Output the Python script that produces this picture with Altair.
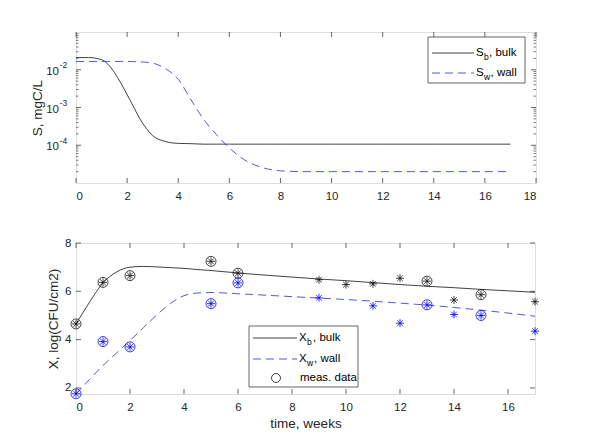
import altair as alt
import pandas as pd

# ---------------- data ----------------
# top panel: substrate concentration, mgC/L (log axis)
t_S = [0, 0.5, 1, 1.25, 1.5, 1.75, 2, 2.25, 2.5, 2.75, 3, 3.5, 4, 4.5, 5,
       5.5, 6, 6.5, 7, 7.5, 8, 9, 10, 12, 14, 17]
S_bulk = [2.1e-2, 2.1e-2, 1.85e-2, 1.4e-2, 8.5e-3, 4.5e-3, 2.2e-3, 1.05e-3,
          5.0e-4, 2.8e-4, 1.8e-4, 1.26e-4, 1.12e-4, 1.1e-4, 1.07e-4,
          1.07e-4, 1.07e-4, 1.07e-4, 1.07e-4, 1.07e-4, 1.07e-4, 1.07e-4,
          1.07e-4, 1.07e-4, 1.07e-4, 1.07e-4]
S_wall = [1.66e-2, 1.66e-2, 1.66e-2, 1.66e-2, 1.66e-2, 1.66e-2, 1.66e-2,
          1.64e-2, 1.62e-2, 1.58e-2, 1.5e-2, 1.07e-2, 5.6e-3, 1.6e-3, 4.8e-4,
          1.9e-4, 8.5e-5, 4.5e-5, 3.0e-5, 2.35e-5, 2.1e-5, 2.0e-5, 2.0e-5,
          2.0e-5, 2.0e-5, 2.0e-5]

# bottom panel: biomass, log(CFU/cm2)
t_X = [0, 0.5, 1, 1.5, 2, 2.5, 3, 3.5, 4, 4.5, 5, 6, 7, 8, 9, 10, 11, 12,
       13, 14, 15, 16, 17]
X_bulk = [4.65, 5.55, 6.35, 6.8, 7.0, 7.03, 7.01, 6.98, 6.95, 6.9, 6.86,
          6.76, 6.67, 6.59, 6.51, 6.44, 6.36, 6.28, 6.21, 6.15, 6.08, 6.02,
          5.96]
X_wall = [1.75, 2.35, 2.93, 3.45, 3.96, 4.5, 5.03, 5.5, 5.82, 5.93, 5.95,
          5.9, 5.84, 5.78, 5.72, 5.66, 5.59, 5.51, 5.43, 5.33, 5.22, 5.1,
          4.97]

# measured data
tb_meas = [0, 1, 2, 5, 6, 9, 10, 11, 12, 13, 14, 15, 17]
Xb_meas = [4.65, 6.37, 6.65, 7.24, 6.75, 6.48, 6.28, 6.31, 6.54, 6.42,
           5.64, 5.86, 5.57]
tw_meas = [0, 1, 2, 5, 6, 9, 11, 12, 13, 14, 15, 17]
Xw_meas = [1.76, 3.92, 3.70, 5.49, 6.35, 5.73, 5.40, 4.68, 5.44, 5.04,
           5.0, 4.35]
t_circled = [0, 1, 2, 5, 6, 13, 15]

# axis ticks / labels
top_xticks = [0, 2, 4, 6, 8, 10, 12, 14, 16, 18]
top_ymajor = [1e-4, 1e-3, 1e-2]
top_yexp = ["-4", "-3", "-2"]
top_yminor = [m * 10.0 ** e for e in (-5, -4, -3, -2) for m in range(2, 10)]
bot_xticks = [0, 2, 4, 6, 8, 10, 12, 14, 16]
bot_yticks = [2, 4, 6, 8]

# ---------------- styling ----------------
FONT = "Liberation Sans"
AX = "#262626"
BLUE_LINE = "#2a2ad8"
BLUE = "#0000ff"
BLACK = "#111111"
W, H = 460, 151
W2 = 459
STAR = "M-1,0L1,0M0,-1L0,1M-0.7,-0.7L0.7,0.7M-0.7,0.7L0.7,-0.7"
one = pd.DataFrame({"a": [0]})

# ================= top panel =================
xs_top = alt.Scale(domain=[0, 18], nice=False, zero=False)
ys_top = alt.Scale(type="log", domain=[1e-5, 1e-1], nice=False)
xax_top = alt.Axis(title=None, values=top_xticks, grid=False, ticks=False,
                   domain=False, labelPadding=7, labelFontSize=11.5,
                   labelColor=AX, labelFont=FONT)
yax_top = alt.Axis(title="S, mgC/L", labels=False, ticks=False, domain=False,
                   grid=False, titlePadding=32, titleFontSize=13.5,
                   titleFontWeight="normal", titleColor=AX, titleFont=FONT)


def XT(f="t"):
    return alt.X(f + ":Q", scale=xs_top, axis=xax_top)


def YT(f):
    return alt.Y(f + ":Q", scale=ys_top, axis=yax_top)


dS = pd.DataFrame({"t": t_S, "bulk": S_bulk, "wall": S_wall})

sb = alt.Chart(dS).mark_line(color=BLACK, strokeWidth=0.8, interpolate="monotone").encode(
    x=XT(), y=YT("bulk"))
sw = alt.Chart(dS).mark_line(color=BLUE_LINE, strokeWidth=0.8, strokeDash=[8, 5],
                             interpolate="monotone").encode(x=XT(), y=YT("wall"))

dxt = pd.DataFrame({"t": top_xticks})
xt_bot = alt.Chart(dxt).mark_rule(color=AX, strokeWidth=0.7).encode(
    x=XT(), y=alt.value(H), y2=alt.value(H - 5))
xt_top = alt.Chart(dxt).mark_rule(color=AX, strokeWidth=0.7).encode(
    x=XT(), y=alt.value(0), y2=alt.value(5))

dym = pd.DataFrame({"v": top_ymajor, "e": top_yexp})
dyn = pd.DataFrame({"v": top_yminor})
ymaj_l = alt.Chart(dym).mark_rule(color=AX, strokeWidth=0.7).encode(
    y=YT("v"), x=alt.value(0), x2=alt.value(5))
ymaj_r = alt.Chart(dym).mark_rule(color=AX, strokeWidth=0.7).encode(
    y=YT("v"), x=alt.value(W), x2=alt.value(W - 5))
ymin_l = alt.Chart(dyn).mark_rule(color=AX, strokeWidth=0.6).encode(
    y=YT("v"), x=alt.value(0), x2=alt.value(2.5))
ymin_r = alt.Chart(dyn).mark_rule(color=AX, strokeWidth=0.6).encode(
    y=YT("v"), x=alt.value(W), x2=alt.value(W - 2.5))
ylab10 = alt.Chart(dym).mark_text(align="right", baseline="middle", dy=2, fontSize=11.5,
                                  font=FONT, color=AX).encode(
    y=YT("v"), x=alt.value(-17), text=alt.value("10"))
ylabexp = alt.Chart(dym).mark_text(align="right", baseline="middle", dy=-4.5, fontSize=8.5,
                                   font=FONT, color=AX).encode(
    y=YT("v"), x=alt.value(-8.7), text="e:N")


def legend_text(txt, x, y, size=11.5, dy=0):
    return alt.Chart(one).mark_text(align="left", baseline="middle", fontSize=size,
                                    font=FONT, color="black", dy=dy).encode(
        x=alt.value(x), y=alt.value(y), text=alt.value(txt))


top_leg = [
    alt.Chart(one).mark_rect(fill="white", stroke=AX, strokeWidth=0.7).encode(
        x=alt.value(352), x2=alt.value(449), y=alt.value(5), y2=alt.value(51)),
    alt.Chart(one).mark_rule(color=BLACK, strokeWidth=0.8).encode(
        x=alt.value(356), x2=alt.value(398), y=alt.value(21)),
    alt.Chart(one).mark_rule(color=BLUE_LINE, strokeWidth=0.8, strokeDash=[8, 5]).encode(
        x=alt.value(356), x2=alt.value(398), y=alt.value(41)),
    legend_text("S", 400, 21), legend_text("b", 408, 21, 8.5, 4),
    legend_text(", bulk", 413, 21),
    legend_text("S", 400, 41), legend_text("w", 408, 41, 8.5, 4),
    legend_text(", wall", 414.5, 41),
]

top = alt.layer(sb, sw, xt_bot, xt_top, ymaj_l, ymaj_r, ymin_l, ymin_r,
                ylab10, ylabexp, *top_leg).properties(width=W, height=H)

# ================= bottom panel =================
xs_bot = alt.Scale(domain=[0, 17], nice=False, zero=False)
ys_bot = alt.Scale(domain=[1.75, 8], nice=False, zero=False)
xax_bot = alt.Axis(title="time, weeks", values=bot_xticks, grid=False, ticks=False,
                   domain=False, labelPadding=7, labelFontSize=11.5, labelColor=AX,
                   labelFont=FONT, titleFontSize=13.5, titleFontWeight="normal",
                   titleColor=AX, titleFont=FONT, titlePadding=4)
yax_bot = alt.Axis(title="X, log(CFU/cm2)", values=bot_yticks, grid=False,
                   ticks=False, domain=False, labelPadding=5, labelFontSize=11.5,
                   labelColor=AX, labelFont=FONT, titleFontSize=13.5,
                   titleFontWeight="normal", titleColor=AX, titleFont=FONT,
                   titlePadding=4)


def XB(f="t"):
    return alt.X(f + ":Q", scale=xs_bot, axis=xax_bot)


def YB(f):
    return alt.Y(f + ":Q", scale=ys_bot, axis=yax_bot)


dX = pd.DataFrame({"t": t_X, "bulk": X_bulk, "wall": X_wall})
xb = alt.Chart(dX).mark_line(color=BLACK, strokeWidth=0.8, interpolate="monotone").encode(
    x=XB(), y=YB("bulk"))
xw = alt.Chart(dX).mark_line(color=BLUE_LINE, strokeWidth=0.8, strokeDash=[8, 5],
                             interpolate="monotone").encode(x=XB(), y=YB("wall"))

dmb = pd.DataFrame({"t": tb_meas, "v": Xb_meas})
dmw = pd.DataFrame({"t": tw_meas, "v": Xw_meas})
dcb = dmb[dmb["t"].isin(t_circled)]
dcw = dmw[dmw["t"].isin(t_circled)]


def markers(df, color, shape, size):
    return alt.Chart(df).mark_point(shape=shape, filled=False, size=size, color=color,
                                    strokeWidth=0.8, opacity=1).encode(x=XB(), y=YB("v"))


mk = [markers(dmb, BLACK, STAR, 64), markers(dmw, BLUE, STAR, 64),
      markers(dcb, BLACK, "circle", 100), markers(dcw, BLUE, "circle", 100)]

dbx = pd.DataFrame({"t": bot_xticks})
dby = pd.DataFrame({"v": bot_yticks})
bt = [
    alt.Chart(dbx).mark_rule(color=AX, strokeWidth=0.7).encode(
        x=XB(), y=alt.value(H), y2=alt.value(H - 5)),
    alt.Chart(dbx).mark_rule(color=AX, strokeWidth=0.7).encode(
        x=XB(), y=alt.value(0), y2=alt.value(5)),
    alt.Chart(dby).mark_rule(color=AX, strokeWidth=0.7).encode(
        y=YB("v"), x=alt.value(0), x2=alt.value(5)),
    alt.Chart(dby).mark_rule(color=AX, strokeWidth=0.7).encode(
        y=YB("v"), x=alt.value(W2), x2=alt.value(W2 - 5)),
]

bot_leg = [
    alt.Chart(one).mark_rect(fill="white", stroke=AX, strokeWidth=0.7).encode(
        x=alt.value(173), x2=alt.value(282), y=alt.value(83), y2=alt.value(144)),
    alt.Chart(one).mark_rule(color=BLACK, strokeWidth=0.8).encode(
        x=alt.value(177), x2=alt.value(221), y=alt.value(95)),
    alt.Chart(one).mark_rule(color=BLUE_LINE, strokeWidth=0.8, strokeDash=[8, 5]).encode(
        x=alt.value(177), x2=alt.value(221), y=alt.value(116)),
    alt.Chart(one).mark_point(shape="circle", filled=False, size=80, color=BLACK,
                              strokeWidth=0.8, opacity=1).encode(
        x=alt.value(200), y=alt.value(135)),
    legend_text("X", 223, 95), legend_text("b", 231, 95, 8.5, 4),
    legend_text(", bulk", 237, 95),
    legend_text("X", 223, 116), legend_text("w", 231, 116, 8.5, 4),
    legend_text(", wall", 238, 116),
    legend_text("meas. data", 224, 135),
]

bottom = alt.layer(xb, xw, *mk, *bt, *bot_leg).properties(width=W2, height=H)

chart = alt.vconcat(top, bottom, spacing=60, bounds="flush").properties(
    padding={"left": 21, "top": 23, "right": 5, "bottom": 5}
).configure_view(stroke=AX, strokeWidth=0.8).configure(font=FONT)

chart.save("out.html", embed_options={"renderer": "svg", "actions": False})
